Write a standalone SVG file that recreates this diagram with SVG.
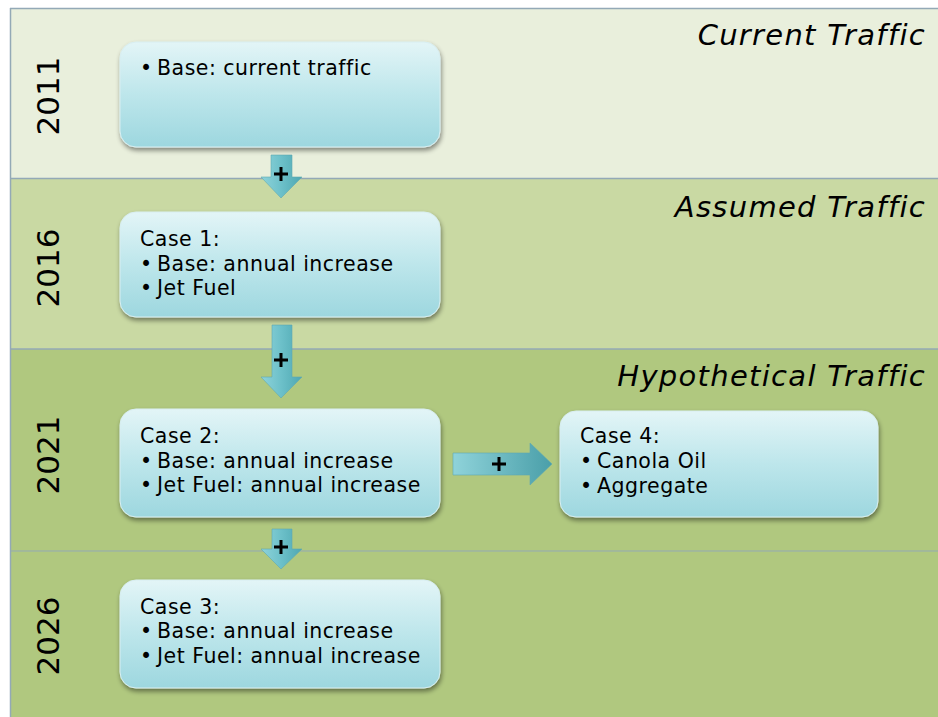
<svg xmlns="http://www.w3.org/2000/svg" width="938" height="717" viewBox="0 0 938 717">
<defs>
<linearGradient id="boxg" x1="0" y1="0" x2="0" y2="1">
<stop offset="0" stop-color="#e3f5f7"/>
<stop offset="0.5" stop-color="#bde6eb"/>
<stop offset="1" stop-color="#9dd7df"/>
</linearGradient>
<linearGradient id="arrv" x1="0" y1="0" x2="1" y2="0">
<stop offset="0" stop-color="#8fd3da"/>
<stop offset="0.5" stop-color="#6cc0c9"/>
<stop offset="1" stop-color="#4ea7b1"/>
</linearGradient>
<linearGradient id="arrh" x1="0" y1="0" x2="1" y2="0">
<stop offset="0" stop-color="#8fd3da"/>
<stop offset="1" stop-color="#4a9fa9"/>
</linearGradient>
<filter id="sh" x="-10%" y="-10%" width="120%" height="130%">
<feGaussianBlur in="SourceAlpha" stdDeviation="2.5"/>
<feOffset dx="1" dy="3" result="b"/>
<feComponentTransfer><feFuncA type="linear" slope="0.45"/></feComponentTransfer>
<feMerge><feMergeNode/><feMergeNode in="SourceGraphic"/></feMerge>
</filter>
</defs>
<style>
.box{fill:url(#boxg);stroke:#d8eef1;stroke-width:1;filter:url(#sh)}
.t{font-family:"DejaVu Sans",Verdana,sans-serif;font-size:20.5px;letter-spacing:0.5px;fill:#000}
.yr{font-family:"DejaVu Sans",Verdana,sans-serif;font-size:31px;fill:#000}
.ttl{font-family:"DejaVu Sans",Verdana,sans-serif;font-size:29px;letter-spacing:1.3px;font-style:italic;fill:#000}
.arr{fill:url(#arrv);stroke:#5fa9b1;stroke-width:0.6}
.arh{fill:url(#arrh);stroke:#5fa9b1;stroke-width:0.6}
.plus{stroke:#000;stroke-width:3;fill:none}
.sep{stroke:#93a9b6;stroke-width:1.5;fill:none}
</style>
<rect width="938" height="717" fill="#ffffff"/>
<g id="bands">
<rect x="10" y="8" width="928" height="170" fill="#e9efdc"/>
<rect x="10" y="178" width="928" height="171" fill="#c9d9a3"/>
<rect x="10" y="349" width="928" height="368" fill="#b0c87f"/>
<line class="sep" x1="10" y1="8.5" x2="938" y2="8.5"/>
<line class="sep" x1="10.5" y1="8" x2="10.5" y2="717"/>
<line class="sep" x1="10" y1="178.5" x2="938" y2="178.5"/>
<line class="sep" x1="10" y1="349" x2="938" y2="349"/>
<line x1="10" y1="551" x2="938" y2="551" stroke="#93a9b6" stroke-width="1"/>
</g>
<g id="titles">
<text class="ttl" x="926" y="45" text-anchor="end">Current Traffic</text>
<text class="ttl" x="926" y="217" text-anchor="end">Assumed Traffic</text>
<text class="ttl" x="926" y="386" text-anchor="end">Hypothetical Traffic</text>
</g>
<g id="years">
<text class="yr" transform="translate(59,96) rotate(-90)" text-anchor="middle">2011</text>
<text class="yr" transform="translate(59,268) rotate(-90)" text-anchor="middle">2016</text>
<text class="yr" transform="translate(59,455) rotate(-90)" text-anchor="middle">2021</text>
<text class="yr" transform="translate(59,636) rotate(-90)" text-anchor="middle">2026</text>
</g>
<g id="connectors">
<g id="arrow1">
<path class="arr" d="M271,155 H292 V177 H302 L281,198 L261,177 H271 Z"/>
<path class="plus" d="M274,174 H288 M281,167 V181"/>
</g>
<g id="arrow2">
<path class="arr" d="M272,325 H292 V377 H302 L281,398 L261,377 H272 Z"/>
<path class="plus" d="M274,360 H288 M281,353 V367"/>
</g>
<g id="arrow3">
<path class="arr" d="M272,529 H292 V549 H302 L281,569 L261,549 H272 Z"/>
<path class="plus" d="M274,547 H288 M281,540 V554"/>
</g>
<g id="arrow4">
<path class="arh" d="M453,453 H530 V443 L552,464 L530,485 V475 H453 Z"/>
<path class="plus" d="M492,464 H506 M499,457 V471"/>
</g>
</g>
<g id="node-2011">
<rect class="box" x="120" y="42" width="320" height="105" rx="16"/>
<text class="t" x="140" y="75">•</text>
<text class="t" x="157" y="75">Base: current traffic</text>
</g>
<g id="node-case1">
<rect class="box" x="120" y="212" width="320" height="105" rx="16"/>
<text class="t" x="140" y="246">Case 1:</text>
<text class="t" x="140" y="271">•</text>
<text class="t" x="157" y="271">Base: annual increase</text>
<text class="t" x="140" y="295">•</text>
<text class="t" x="157" y="295">Jet Fuel</text>
</g>
<g id="node-case2">
<rect class="box" x="120" y="409" width="320" height="108" rx="16"/>
<text class="t" x="140" y="443">Case 2:</text>
<text class="t" x="140" y="468">•</text>
<text class="t" x="157" y="468">Base: annual increase</text>
<text class="t" x="140" y="492">•</text>
<text class="t" x="157" y="492">Jet Fuel: annual increase</text>
</g>
<g id="node-case4">
<rect class="box" x="560" y="411" width="318" height="106" rx="16"/>
<text class="t" x="580" y="443">Case 4:</text>
<text class="t" x="580" y="468">•</text>
<text class="t" x="597" y="468">Canola Oil</text>
<text class="t" x="580" y="493">•</text>
<text class="t" x="597" y="493">Aggregate</text>
</g>
<g id="node-case3">
<rect class="box" x="120" y="580" width="320" height="108" rx="16"/>
<text class="t" x="140" y="614">Case 3:</text>
<text class="t" x="140" y="638">•</text>
<text class="t" x="157" y="638">Base: annual increase</text>
<text class="t" x="140" y="663">•</text>
<text class="t" x="157" y="663">Jet Fuel: annual increase</text>
</g>
</svg>
